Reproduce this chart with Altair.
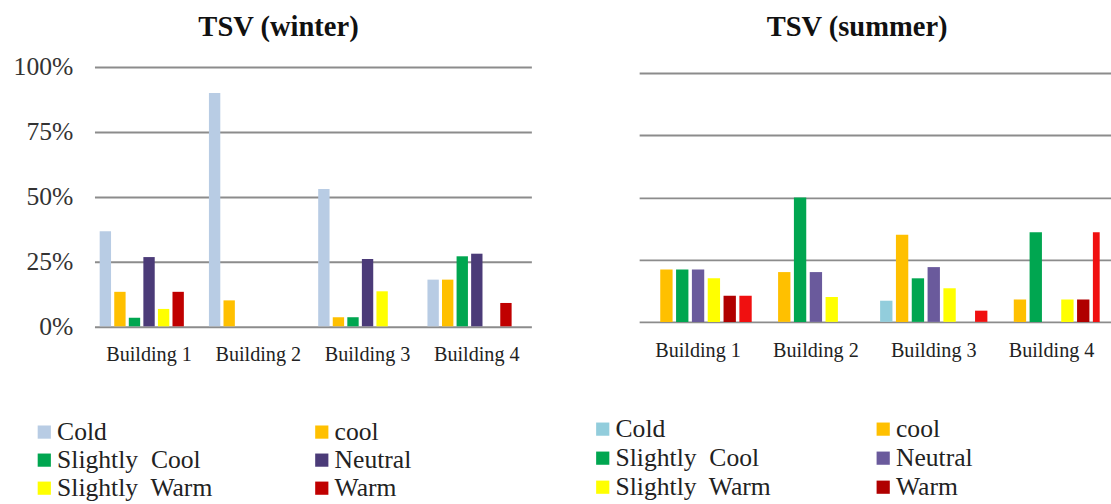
import altair as alt
import pandas as pd

buildings = ["Building 1", "Building 2", "Building 3", "Building 4"]
# legend text keeps the double / leading spaces of the original labels
categories = ["Cold", "cool", "Slightly\u00a0 Cool", "\u00a0Neutral", "Slightly\u00a0 Warm", "Warm", "Hot"]
legend_categories = categories[:6]

# winter thermal sensation votes, share of respondents per building
winter_cold = [0.367, 0.90, 0.53, 0.18]
winter_cool = [0.133, 0.10, 0.035, 0.18]
winter_slightly_cool = [0.033, 0.0, 0.035, 0.27]
winter_neutral = [0.267, 0.0, 0.26, 0.28]
winter_slightly_warm = [0.067, 0.0, 0.135, 0.0]
winter_warm = [0.133, 0.0, 0.0, 0.09]
winter_hot = [0.0, 0.0, 0.0, 0.0]

# summer thermal sensation votes
summer_cold = [0.0, 0.0, 0.085, 0.0]
summer_cool = [0.21, 0.20, 0.35, 0.09]
summer_slightly_cool = [0.21, 0.50, 0.175, 0.36]
summer_neutral = [0.21, 0.20, 0.22, 0.0]
summer_slightly_warm = [0.175, 0.10, 0.135, 0.09]
summer_warm = [0.105, 0.0, 0.0, 0.09]
summer_hot = [0.105, 0.0, 0.045, 0.36]

winter_colors = ["#b8cce4", "#ffc000", "#00a650", "#4b3b78", "#ffff00", "#c00000", "#ff0000"]
summer_colors = ["#92cddc", "#ffc000", "#00a650", "#6a5a9c", "#ffff00", "#b00000", "#f01010"]

SERIF = "Liberation Serif"
GRID = "#8c8c8c"


def long_table(series):
    rows = []
    for cat, vals in zip(categories, series):
        for b, v in zip(buildings, vals):
            rows.append({"building": b, "category": cat, "share": v})
    return pd.DataFrame(rows)


winter_df = long_table([winter_cold, winter_cool, winter_slightly_cool, winter_neutral,
                        winter_slightly_warm, winter_warm, winter_hot])
summer_df = long_table([summer_cold, summer_cool, summer_slightly_cool, summer_neutral,
                        summer_slightly_warm, summer_warm, summer_hot])


def panel(df, colors, title, width, height, x_scale, y_scale, title_offset, title_dx,
          legend_x, legend_y, row_padding, column_padding, show_y_labels, clip=False):
    y_axis = alt.Axis(
        values=[0, 0.25, 0.5, 0.75, 1.0], format="%", grid=True, gridColor=GRID,
        gridWidth=2, domain=False, ticks=False, labels=show_y_labels,
        labelFont=SERIF, labelFontSize=26, labelColor="#333333", labelPadding=22,
        title=None,
    )
    x_axis = alt.Axis(
        domain=False, ticks=False, grid=False, labelAngle=0, labelFont=SERIF,
        labelFontSize=20.5, labelColor="#222222", labelPadding=19, title=None,
    )
    legend = alt.Legend(
        values=legend_categories, title=None, orient="none", legendX=legend_x,
        legendY=legend_y, columns=2, direction="horizontal",
        columnPadding=column_padding, rowPadding=row_padding, symbolType="square",
        symbolSize=180, symbolStrokeWidth=0, labelOffset=0, labelFont=SERIF,
        labelFontSize=26, labelColor="#222222", labelLimit=400,
    )
    return alt.Chart(df).mark_bar(clip=clip).encode(
        x=alt.X("building:N", sort=buildings, scale=x_scale, axis=x_axis),
        xOffset=alt.XOffset("category:N", sort=categories,
                            scale=alt.Scale(domain=categories, paddingInner=0.22, paddingOuter=0.11)),
        y=alt.Y("share:Q", scale=y_scale, axis=y_axis),
        color=alt.Color("category:N", sort=categories,
                        scale=alt.Scale(domain=categories, range=colors), legend=legend),
    ).properties(
        width=width, height=height,
        title=alt.TitleParams(title, font=SERIF, fontSize=29, fontWeight="bold",
                              color="#111111", anchor="middle", frame="group",
                              offset=title_offset, dx=title_dx),
    )


winter = panel(winter_df, winter_colors, "TSV (winter)", 444, 263.5,
               alt.Scale(paddingInner=0.067, paddingOuter=0.033),
               alt.Scale(domain=[0, 1], nice=False),
               title_offset=13, title_dx=-35, legend_x=-64, legend_y=358,
               row_padding=2.5, column_padding=97, show_y_labels=True)

# the summer panel sits a little lower and runs past the right edge of the page
summer = panel(summer_df, summer_colors, "TSV (summer)", 468, 259,
               alt.Scale(range=[0, 479], paddingInner=0.06, paddingOuter=0.03),
               alt.Scale(domain=[0, 1], nice=False, range=[259, 6]),
               title_offset=26, title_dx=-12.5, legend_x=-50, legend_y=355,
               row_padding=3.5, column_padding=100, show_y_labels=False, clip=True)

chart = alt.hconcat(winter, summer, spacing=109.5, bounds="flush").resolve_scale(
    x="independent", y="independent", color="independent", xOffset="independent"
).resolve_legend(color="independent").properties(
    padding={"left": 13, "top": 9, "right": 0, "bottom": 0},
    background="white",
).configure_view(strokeOpacity=0)

chart.save("out.html", embed_options={"renderer": "svg", "actions": False})
